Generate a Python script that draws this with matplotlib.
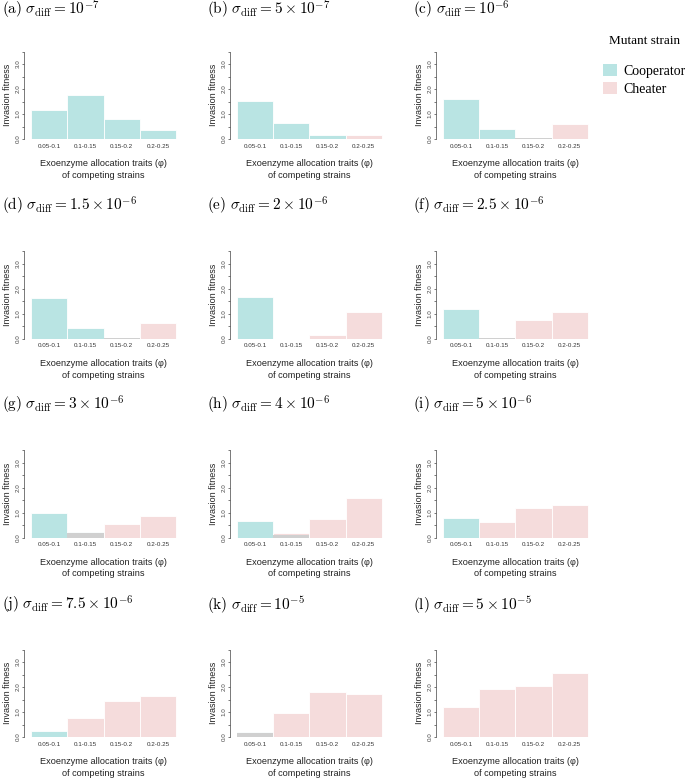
import numpy as np
import matplotlib
matplotlib.use("Agg")
import matplotlib.pyplot as plt
from matplotlib.patches import Patch

# ---------------- data ----------------
categories = ["0.05-0.1", "0.1-0.15", "0.15-0.2", "0.2-0.25"]
panel_labels = ["(a)", "(b)", "(c)", "(d)", "(e)", "(f)", "(g)", "(h)", "(i)", "(j)", "(k)", "(l)"]
sigma_texts = [r"10^{-7}", r"5\times10^{-7}", r"10^{-6}", r"1.5\times10^{-6}",
               r"2\times10^{-6}", r"2.5\times10^{-6}", r"3\times10^{-6}", r"4\times10^{-6}",
               r"5\times10^{-6}", r"7.5\times10^{-6}", r"10^{-5}", r"5\times10^{-5}"]

cooperator = [
    [1.16, 1.78, 0.80, 0.375],
    [1.52, 0.64, 0.16, 0.00],
    [1.62, 0.40, 0.03, 0.00],
    [1.63, 0.41, 0.03, 0.00],
    [1.67, 0.00, 0.00, 0.00],
    [1.20, 0.03, 0.00, 0.00],
    [0.98, 0.21, 0.00, 0.00],
    [0.68, 0.10, 0.00, 0.00],
    [0.80, 0.00, 0.00, 0.00],
    [0.24, 0.00, 0.00, 0.00],
    [0.21, 0.00, 0.00, 0.00],
    [0.00, 0.00, 0.00, 0.00],
]
cheater = [
    [0.00, 0.00, 0.00, 0.00],
    [0.00, 0.00, 0.00, 0.16],
    [0.00, 0.00, 0.03, 0.60],
    [0.00, 0.00, 0.03, 0.63],
    [0.00, 0.00, 0.16, 1.08],
    [0.00, 0.03, 0.73, 1.07],
    [0.00, 0.19, 0.54, 0.86],
    [0.00, 0.18, 0.73, 1.57],
    [0.00, 0.62, 1.20, 1.31],
    [0.00, 0.77, 1.46, 1.66],
    [0.16, 0.98, 1.79, 1.74],
    [1.20, 1.93, 2.03, 2.55],
]
y_ticks = [0.0, 0.5, 1.0, 1.5, 2.0, 2.5, 3.0, 3.5]
y_ticklabels = ["0.0", "", "1.0", "", "2.0", "", "3.0", ""]

# ---------------- style ----------------
COOP = "#b9e4e3"
CHEAT = "#f5dcdc"
OVER = "#d0d0d0"
AXC = "#444444"
SANS = "Liberation Sans"
plt.rcParams["mathtext.fontset"] = "cm"

W, H = 685, 779
fig = plt.figure(figsize=(W / 100, H / 100), dpi=100)

col_left = [24.5, 230.2, 436.2]
row_zero = [139.0, 338.7, 537.7, 737.0]
ax_w = 158.3
ax_h = 87.4
title_base = [14.5, 210.7, 409.5, 609.5]
x = np.arange(len(categories)) + 0.5

for i in range(12):
    r, c = divmod(i, 3)
    left = col_left[c]
    bottom = row_zero[r]
    ax = fig.add_axes([left / W, 1 - bottom / H, ax_w / W, ax_h / H])
    coop = np.array(cooperator[i])
    cheat = np.array(cheater[i])
    over = np.minimum(coop, cheat)
    ax.bar(x, coop, width=1.0, color=COOP, edgecolor="white", linewidth=0.6)
    ax.bar(x, cheat, width=1.0, color=CHEAT, edgecolor="white", linewidth=0.6)
    ax.bar(x, over, width=1.0, color=OVER, edgecolor="none", linewidth=0)
    ax.set_xlim(-0.18, 4.18)
    ax.set_ylim(0, 3.5)
    for s in ["top", "right", "bottom"]:
        ax.spines[s].set_visible(False)
    ax.spines["left"].set_color(AXC)
    ax.spines["left"].set_linewidth(0.5)
    ax.set_yticks(y_ticks)
    ax.set_yticklabels(y_ticklabels, rotation=90, va="center", fontsize=4.5,
                       family=SANS, color=AXC)
    ax.tick_params(axis="y", length=1.8, width=0.5, color=AXC, pad=0.8)
    ax.set_xticks(x)
    ax.set_xticklabels(categories, fontsize=4.5, family=SANS, color="#333333")
    ax.tick_params(axis="x", length=0, pad=3.3)
    ax.set_ylabel("Invasion fitness", fontsize=6.5, family=SANS, color="#222222", labelpad=2.5)
    ax.set_xlabel("Exoenzyme allocation traits (\u03c6)\nof competing strains",
                  fontsize=6.6, family=SANS, color="#222222", labelpad=7.5, linespacing=1.4)
    fig.text((left - 23) / W, 1 - title_base[r] / H,
             r"$\mathrm{%s}\ \sigma_{\mathrm{diff}} = %s$" % (panel_labels[i], sigma_texts[i]),
             fontsize=11, ha="left", va="baseline")

handles = [Patch(facecolor=COOP, edgecolor="none"), Patch(facecolor=CHEAT, edgecolor="none")]
leg = fig.legend(handles, ["Cooperator", "Cheater"], title="Mutant strain",
                 loc="upper left", bbox_to_anchor=(603 / W, 1 - 35 / H),
                 frameon=False, handlelength=1.0, handleheight=1.0, handletextpad=0.5,
                 labelspacing=0.3, borderaxespad=0, borderpad=0,
                 prop={"family": "Liberation Serif", "size": 10})
leg.get_title().set_fontfamily("Liberation Serif")
leg.get_title().set_fontsize(9.5)
leg._legend_box.sep = 12

fig.savefig("out.png", dpi=100)
